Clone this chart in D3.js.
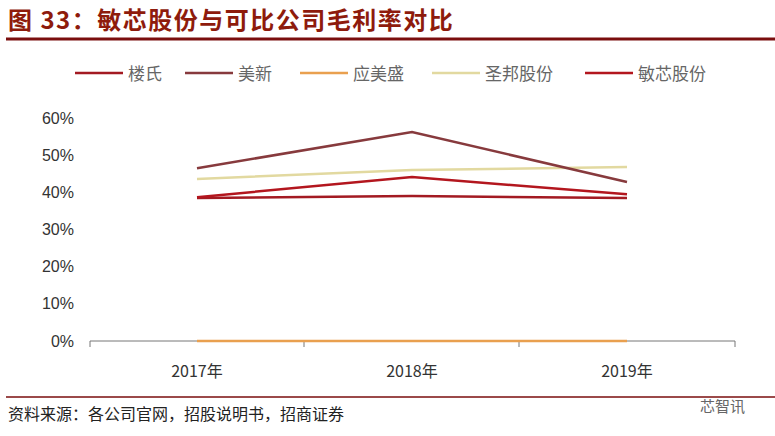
<!DOCTYPE html>
<html><head><meta charset="utf-8">
<script src="https://cdn.jsdelivr.net/npm/d3@7"></script>
<style>body{margin:0;background:#fff;font-family:"Noto Sans CJK SC",sans-serif;}</style>
</head><body><div id="chart"></div>
<script>
const years = ["2017年", "2018年", "2019年"];
const yTicks = [0, 10, 20, 30, 40, 50, 60];
const seriesNames = ["楼氏", "美新", "应美盛", "圣邦股份", "敏芯股份"];
const seriesColors = ["#A31A22", "#873A3D", "#E9A04F", "#E2D9A0", "#B3161E"];
const louShi = [38.5, 39.0, 38.5];
const meiXin = [46.5, 56.2, 42.8];
const yingMeiSheng = [0, 0, 0];
const shengBang = [43.6, 46.0, 46.8];
const minXin = [38.7, 44.1, 39.5];
const allValues = [louShi, meiXin, yingMeiSheng, shengBang, minXin];

const width = 775, height = 436;
const svg = d3.select("#chart").append("svg").attr("width", width).attr("height", height);

svg.append("text").attr("x", 8).attr("y", 29)
    .style("font-size", 24).style("font-weight", "bold").style("fill", "#8E1B0C")
    .style("letter-spacing", "1.5px")
    .text("图 33：敏芯股份与可比公司毛利率对比");
svg.append("line").attr("x1", 6).attr("x2", 775).attr("y1", 39).attr("y2", 39)
    .attr("stroke", "#7A0E0E").attr("stroke-width", 3);

// legend
const legendX = [75, 185, 300, 432, 585];
seriesNames.forEach(function(n, i) {
    svg.append("line").attr("x1", legendX[i]).attr("x2", legendX[i] + 48)
        .attr("y1", 73).attr("y2", 73).attr("stroke", seriesColors[i]).attr("stroke-width", 2.5);
    svg.append("text").attr("x", legendX[i] + 53).attr("y", 80)
        .style("font-size", 17).style("fill", "#666").text(n);
});

let x = d3.scalePoint().domain(years).range([197, 627]).padding(0);
let y = d3.scaleLinear().domain([0, 60]).range([341, 118]);

let yAxis = svg.append("g").attr("transform", "translate(80,0)")
    .call(d3.axisLeft(y).tickValues(yTicks).tickSize(0).tickPadding(6).tickFormat(d => d + "%"));
yAxis.select(".domain").remove();
yAxis.selectAll("text").style("font-size", 16).style("fill", "#333").style("font-family", "Liberation Sans, Arial");

svg.append("line").attr("x1", 90).attr("x2", 735).attr("y1", 341).attr("y2", 341)
    .attr("stroke", "#777").attr("stroke-width", 1);
[90, 304, 519, 735].forEach(function(t) {
    svg.append("line").attr("x1", t).attr("x2", t).attr("y1", 341).attr("y2", 347).attr("stroke", "#777");
});
years.forEach(function(yr) {
    svg.append("text").attr("x", x(yr)).attr("y", 377).style("text-anchor", "middle")
        .style("font-size", 16).style("fill", "#333").text(yr);
});

let line = d3.line().x((d, i) => x(years[i])).y(d => y(d));
[2, 3, 1, 0, 4].forEach(function(i) {
    svg.append("path").datum(allValues[i]).attr("d", line).attr("fill", "none")
        .attr("stroke", seriesColors[i]).attr("stroke-width", 2.5);
});

svg.append("line").attr("x1", 6).attr("x2", 775).attr("y1", 397).attr("y2", 397)
    .attr("stroke", "#7A0E0E").attr("stroke-width", 1.5);
svg.append("text").attr("x", 8).attr("y", 420).style("font-size", 16).style("fill", "#222")
    .text("资料来源：各公司官网，招股说明书，招商证券");
svg.append("text").attr("x", 700).attr("y", 412).style("font-size", 15).style("fill", "#666")
    .text("芯智讯");
</script></body></html>
